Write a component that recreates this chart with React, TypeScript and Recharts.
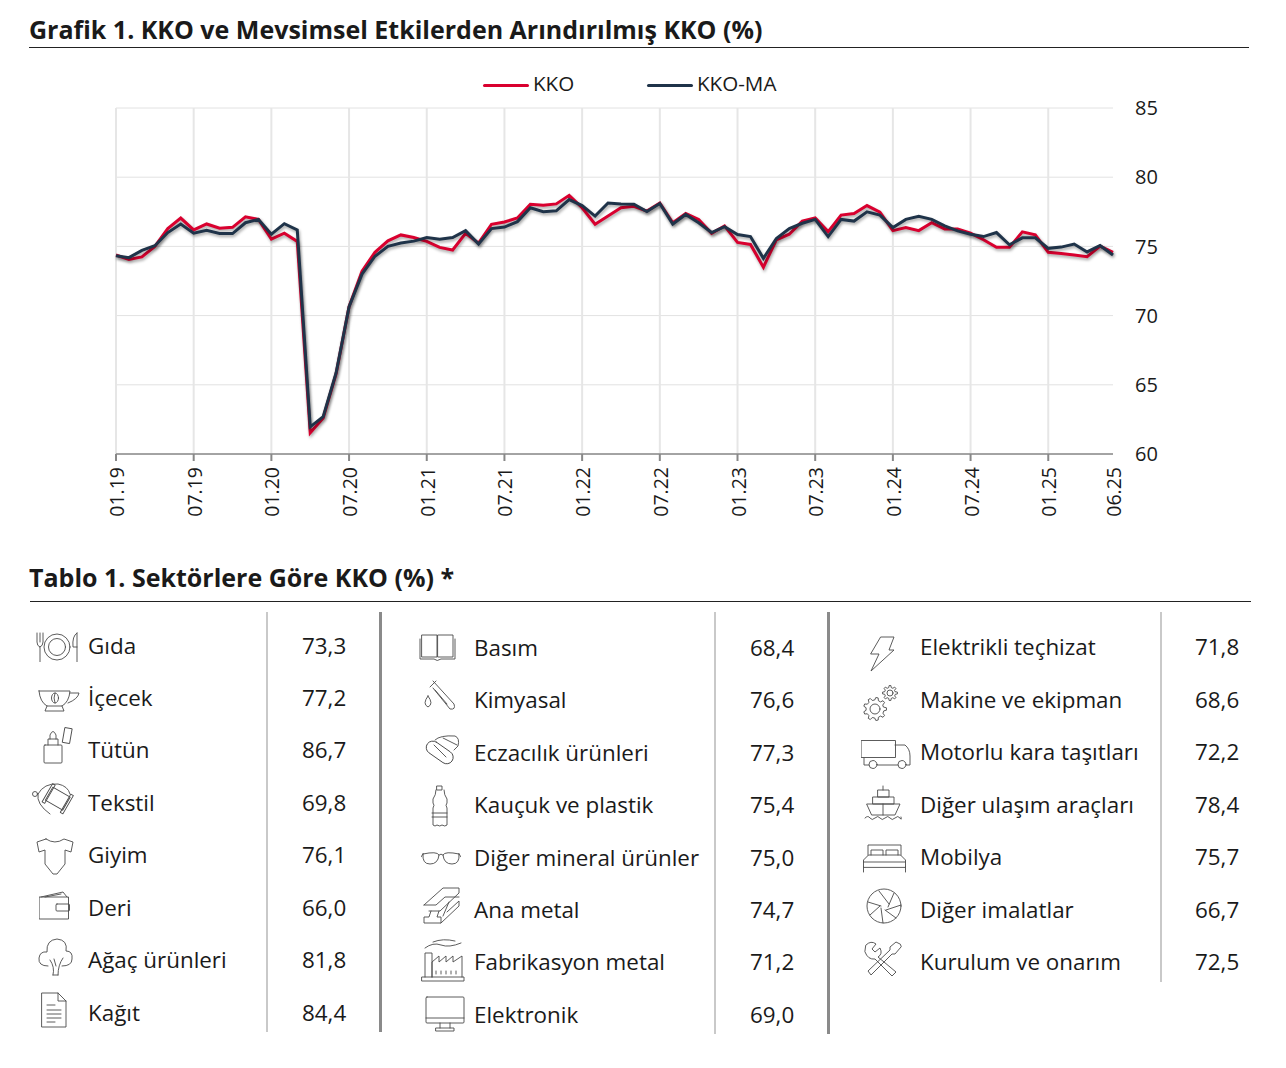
import React from "react";
import { LineChart, Line, XAxis, YAxis, CartesianGrid, ReferenceLine, Legend } from "recharts";

const months = [
  "01.19","02.19","03.19","04.19","05.19","06.19","07.19","08.19","09.19","10.19","11.19","12.19",
  "01.20","02.20","03.20","04.20","05.20","06.20","07.20","08.20","09.20","10.20","11.20","12.20",
  "01.21","02.21","03.21","04.21","05.21","06.21","07.21","08.21","09.21","10.21","11.21","12.21",
  "01.22","02.22","03.22","04.22","05.22","06.22","07.22","08.22","09.22","10.22","11.22","12.22",
  "01.23","02.23","03.23","04.23","05.23","06.23","07.23","08.23","09.23","10.23","11.23","12.23",
  "01.24","02.24","03.24","04.24","05.24","06.24","07.24","08.24","09.24","10.24","11.24","12.24",
  "01.25","02.25","03.25","04.25","05.25","06.25",
];
const kko = [
  74.38,74.05,74.24,75.0,76.29,77.05,76.19,76.62,76.31,76.38,77.14,76.95,
  75.52,75.95,75.36,61.53,62.6,65.8,70.64,73.2,74.57,75.4,75.83,75.64,
  75.36,74.93,74.74,75.95,75.24,76.6,76.76,77.05,78.05,77.98,78.07,78.69,
  77.79,76.6,77.19,77.79,77.9,77.55,78.14,76.71,77.38,76.95,75.95,76.48,
  75.29,75.14,73.5,75.48,75.88,76.83,77.05,76.07,77.26,77.38,77.95,77.48,
  76.14,76.36,76.14,76.71,76.26,76.26,75.95,75.48,74.93,74.93,76.05,75.83,
  74.57,74.48,74.38,74.26,75.02,74.57,
];
const kkoMa = [
  74.33,74.19,74.71,75.05,76.0,76.62,75.95,76.17,75.93,75.93,76.71,76.95,
  75.88,76.64,76.19,61.96,62.7,65.87,70.64,73.0,74.29,75.0,75.24,75.38,
  75.64,75.52,75.64,76.14,75.17,76.29,76.4,76.79,77.79,77.5,77.57,78.38,
  77.95,77.19,78.14,78.07,78.05,77.52,78.1,76.62,77.31,76.71,76.0,76.43,
  75.86,75.71,74.14,75.57,76.29,76.67,76.95,75.71,76.95,76.83,77.5,77.26,
  76.36,76.95,77.17,76.95,76.48,76.12,75.88,75.71,76.0,75.12,75.62,75.62,
  74.86,74.95,75.17,74.6,75.07,74.38,
];
const xTicks = ["01.19","07.19","01.20","07.20","01.21","07.21","01.22","07.22","01.23","07.23","01.24","07.24","01.25","06.25"];
const gridMonths = ["01.19","07.19","01.20","07.20","01.21","07.21","01.22","07.22","01.23","07.23","01.24","07.24","01.25"];
const yTicks = [60, 65, 70, 75, 80, 85];

const col1Names = ["Gıda","İçecek","Tütün","Tekstil","Giyim","Deri","Ağaç ürünleri","Kağıt"];
const col1Values = ["73,3","77,2","86,7","69,8","76,1","66,0","81,8","84,4"];
const col2Names = ["Basım","Kimyasal","Eczacılık ürünleri","Kauçuk ve plastik","Diğer mineral ürünler","Ana metal","Fabrikasyon metal","Elektronik"];
const col2Values = ["68,4","76,6","77,3","75,4","75,0","74,7","71,2","69,0"];
const col3Names = ["Elektrikli teçhizat","Makine ve ekipman","Motorlu kara taşıtları","Diğer ulaşım araçları","Mobilya","Diğer imalatlar","Kurulum ve onarım"];
const col3Values = ["71,8","68,6","72,2","78,4","75,7","66,7","72,5"];

const chartData = months.map((m, i) => ({ month: m, KKO: kko[i], "KKO-MA": kkoMa[i] }));

const FONT = "'Open Sans', 'Noto Sans', sans-serif";
const INK = "#1a1a1a";

type IconDef = { x: number; y: number; w: number; h: number; d: React.ReactNode };

function gearPath(cx: number, cy: number, r1: number, r2: number, n: number) {
  const pts: string[] = [];
  for (let i = 0; i < n; i++) {
    const a = (i / n) * Math.PI * 2;
    const s = (Math.PI * 2) / n;
    const at = (r: number, t: number) => `${(cx + r * Math.cos(t)).toFixed(2)} ${(cy + r * Math.sin(t)).toFixed(2)}`;
    pts.push(at(r1, a - s * 0.3), at(r2, a - s * 0.15), at(r2, a + s * 0.15), at(r1, a + s * 0.3));
  }
  return "M" + pts.join("L") + "z";
}

const col1Icons: IconDef[] = [
  { x: 36, y: 632, w: 42, h: 30, d: <><path d="M1 1v9q0 4 3 5v15M4 1v9M7 1v9q0 4-3 5" /><circle cx="21" cy="15" r="13" /><circle cx="21" cy="15" r="8.5" /><path d="M41 1v29M41 1q-5 3-4 14h4" /></> },
  { x: 38, y: 689, w: 42, h: 23, d: <><path d="M1 2h31q-1 11-8 15H9Q2 13 1 2z" /><path d="M32 4h9q-1 6-11 10" /><path d="M9 17l-2 5h19l-2-5" /><ellipse cx="17" cy="9" rx="3.5" ry="5" /><path d="M17 4q-2 5 0 10" /></> },
  { x: 43, y: 727, w: 30, h: 37, d: <><rect x="1" y="18" width="18" height="18" rx="1" /><path d="M5 18v-6h10v6M7 12V8q3-7 6 0v4" /><rect x="21" y="1" width="7" height="15" transform="rotate(10 24 8)" /></> },
  { x: 32, y: 782, w: 43, h: 35, d: <><g transform="rotate(30 25 18)"><rect x="15" y="9" width="20" height="15" /><rect x="13" y="6" width="3" height="21" /><rect x="34" y="6" width="3" height="21" /></g><path d="M6 12Q12 1 26 2q10 2 12 10M6 12q-2 10 12 20" /><circle cx="3" cy="12" r="2.5" /></> },
  { x: 36, y: 838, w: 38, h: 37, d: <path d="M10 1L1 4l2 10 6-2v14l8 10h4l8-10V12l6 2 2-10-9-3q-9 6-18 0z" /> },
  { x: 39, y: 891, w: 31, h: 29, d: <><rect x="0.5" y="6" width="29" height="22" /><rect x="17" y="13" width="13.5" height="7" rx="1" /><path d="M2 6l22-5 4 5M6 6l16-3" /></> },
  { x: 38, y: 938, w: 35, h: 38, d: <><path d="M10 28q-10 0-9-8 1-7 8-6Q8 2 19 1q11 1 9 12 7 0 6 8 0 7-10 7" /><path d="M15 37q2-8-3-15M20 37q0-10 5-17M15 37h5M18 28l-2-7" /></> },
  { x: 41, y: 992, w: 26, h: 36, d: <path d="M1 1h16l8 8v26H1zM17 1v8h8M6 13h8M6 18h14M6 22h14M6 26h14M6 30h8" /> },
];
const col2Icons: IconDef[] = [
  { x: 419, y: 633, w: 37, h: 28, d: <path d="M3 2h15v22H3zM19 2h15v22H19zM1 6v20h14q3 3 7 0h14V6" /> },
  { x: 422, y: 680, w: 34, h: 30, d: <path d="M11 1l21 23q2 6-4 5L11 8M8 7l6-6M6 16q-6 8 0 11 6-3 0-11zM13 10l12 14" /> },
  { x: 423, y: 735, w: 37, h: 30, d: <><rect x="2" y="11" width="30" height="13" rx="6.5" transform="rotate(35 17 17)" /><path d="M11 10l12 12M12 5q5-5 20-4 5 2 3 10l-4 4M20 3l14 7" /></> },
  { x: 431, y: 785, w: 17, h: 43, d: <path d="M6 1h5v4H6zM5 5q0 5-3 9v4q2 2 0 5v17q2 2 4 0 3 2 5 0 3 2 5 0V23q-2-3 0-5v-4q-3-4-3-9M1 32h15M1 28h15" /> },
  { x: 421, y: 850, w: 40, h: 16, d: <path d="M2 4q14-3 16 1-1 9-9 9T2 4zM38 4q-14-3-16 1 1 9 9 9t7-10zM18 5q2-2 4 0M2 4L0 7M38 4l2 3" /> },
  { x: 423, y: 887, w: 37, h: 37, d: <path d="M1 18L20 1h16v5L17 24H6M1 18h12l9-8h14M16 24l-2 6h4v6H1v-6h5l2-6M18 36l18-17v-5L24 25M26 15l-6 14" /> },
  { x: 421, y: 938, w: 44, h: 44, d: <path d="M1 43h42v-4H1zM4 39V15h7v24M11 39V24l7-6v6l7-6v6l7-6v6l9-6v21M15 33v3M20 33v3M25 33v3M30 33v3M35 33v3M4 10q8-6 16-3 8 3 20-2M12 4q10-4 22-1" /> },
  { x: 425, y: 996, w: 40, h: 36, d: <path d="M2 1h36q1 0 1 1v24q0 1-1 1H2q-1 0-1-1V2q0-1 1-1zM1 22h38M15 27v5M25 27v5M11 32h18v3H11z" /> },
];
const col3Icons: IconDef[] = [
  { x: 870, y: 636, w: 25, h: 36, d: <path d="M11 1h13l-5 13h5L1 35l8-17H1z" /> },
  { x: 863, y: 685, w: 35, h: 36, d: <><path d={gearPath(12, 24, 9, 11.5, 9)} /><circle cx="12" cy="24" r="5" /><path d={gearPath(27, 8, 5.5, 7.5, 8)} /><circle cx="27" cy="8" r="3" /></> },
  { x: 861, y: 740, w: 50, h: 29, d: <><rect x="0.5" y="0.5" width="34" height="17" /><path d="M34 5h10q5 4 5 11v9h-4M3 18v7h5M16 25h21" /><circle cx="12" cy="24.5" r="4" /><circle cx="41" cy="24.5" r="4" /></> },
  { x: 864, y: 785, w: 39, h: 37, d: <path d="M19 1v4M14 5h11v7H14zM9 12h21v7H9zM3 19h33l-5 11H8zM19 19v11M1 33q3-3 5 0t5 0 5 0 5 0 5 0 5 0 5 0 1-1" /> },
  { x: 863, y: 844, w: 43, h: 29, d: <path d="M5 11V1h33v10M0.5 23v-7l5-5h32l5 5v7zM0.5 23v5M42.5 23v5M8 11V6h12v5M23 11V6h12v5M0.5 18h42" /> },
  { x: 866, y: 888, w: 36, h: 36, d: <><circle cx="18" cy="18" r="17" /><path d="M13 3l10 13M28 5l-6 14M35 17l-15 5M30 30l-11-8M17 35l-2-15M4 27l10-9M2 14l13 4" /></> },
  { x: 864, y: 941, w: 38, h: 36, d: <path d="M2 4q5-5 10-1l-4 5 3 3 5-4q3 6-2 9l18 15-4 4-17-17Q4 19 1 11zM36 3l-4-2-6 5v3L4 30l3 4 21-21 3 0 6-7z" /> },
];

function Icon({ icon }: { icon: IconDef }) {
  return (
    <svg
      style={{ position: "absolute", left: icon.x, top: icon.y }}
      width={icon.w}
      height={icon.h}
      viewBox={`0 0 ${icon.w} ${icon.h}`}
      fill="none"
      stroke="#4a4a4a"
      strokeWidth={0.9}
      strokeLinejoin="round"
      strokeLinecap="round"
    >
      {icon.d}
    </svg>
  );
}

function Label({ x, cy, text, size = 22.4, weight = 400 }: { x: number; cy: number; text: string; size?: number; weight?: number }) {
  return (
    <div
      style={{
        position: "absolute", left: x, top: cy - 20, height: 40, lineHeight: "40px",
        fontFamily: FONT, fontSize: size, fontWeight: weight, color: INK, whiteSpace: "nowrap",
      }}
    >
      {text}
    </div>
  );
}

function Rule({ x, y, w, h, color }: { x: number; y: number; w: number; h: number; color: string }) {
  return <div style={{ position: "absolute", left: x, top: y, width: w, height: h, background: color }} />;
}

function Column({ names, values, icons, labelX, valueX, centers }: { names: string[]; values: string[]; icons: IconDef[]; labelX: number; valueX: number; centers: number[] }) {
  return (
    <>
      {names.map((n, i) => (
        <React.Fragment key={n}>
          <Icon icon={icons[i]} />
          <Label x={labelX} cy={centers[i]} text={n} />
          <Label x={valueX} cy={centers[i]} text={values[i]} />
        </React.Fragment>
      ))}
    </>
  );
}

const XTick = (props: any) => {
  const { x, y, payload } = props;
  const hasMark = gridMonths.includes(payload.value);
  return (
    <g>
      {hasMark && <line x1={x} x2={x} y1={y - 8} y2={y - 1} stroke="#888" strokeWidth={2} />}
      <text
        transform={`rotate(-90 ${x + 1} ${y + 5})`}
        x={x + 1}
        y={y + 5}
        dy={7}
        textAnchor="end"
        fontFamily={FONT}
        fontSize={19.5}
        fill={INK}
      >
        {payload.value}
      </text>
    </g>
  );
};

const legendLeft = [483, 647];
const renderLegend = (props: any) => (
  <div style={{ position: "relative", height: 0 }}>
    {(props.payload || []).map((p: any, i: number) => (
      <div key={p.value} style={{ position: "absolute", left: legendLeft[i], top: 0, display: "flex", alignItems: "center", height: 30 }}>
        <div style={{ width: 46, height: 3, background: p.color, borderRadius: 2, marginTop: 4 }} />
        <span style={{ marginLeft: 4, fontFamily: FONT, fontSize: 20.6, color: INK }}>{p.value}</span>
      </div>
    ))}
  </div>
);

const shadow = { filter: "drop-shadow(1px 2px 1.5px rgba(0,0,0,0.35))" };

export default function App() {
  return (
    <div style={{ position: "absolute", left: 0, top: 0, width: 1286, height: 1068, background: "#fff", overflow: "hidden" }}>
      <Label x={29} cy={29} text="Grafik 1. KKO ve Mevsimsel Etkilerden Arındırılmış KKO (%)" size={25} weight={700} />
      <Rule x={29} y={47} w={1220} h={1} color="#222" />
      <div style={{ position: "absolute", left: 0, top: 0 }}>
        <LineChart width={1286} height={530} data={chartData} margin={{ top: 108, right: 113, bottom: 0, left: 116 }}>
          <CartesianGrid vertical={false} stroke="#e2e2e2" strokeWidth={1} />
          {gridMonths.map((m) => (
            <ReferenceLine key={m} x={m} stroke="#e6e6e6" strokeWidth={2} />
          ))}
          <XAxis
            dataKey="month"
            ticks={xTicks}
            interval={0}
            tick={XTick}
            tickLine={false}
            axisLine={{ stroke: "#8a8a8a", strokeWidth: 1.5 }}
            height={76}
            padding={{ left: 0, right: 0 }}
          />
          <YAxis
            orientation="right"
            domain={[60, 85]}
            ticks={yTicks}
            width={60}
            axisLine={false}
            tickLine={false}
            tick={{ fontFamily: FONT, fontSize: 20, fill: INK, dx: 14 }}
          />
          <Legend content={renderLegend} verticalAlign="top" wrapperStyle={{ left: 0, top: 68, width: 1286, height: 0 }} />
          <Line dataKey="KKO" stroke="#d9002f" strokeWidth={3} dot={false} activeDot={false} isAnimationActive={false} style={shadow} />
          <Line dataKey="KKO-MA" stroke="#1f3349" strokeWidth={3} dot={false} activeDot={false} isAnimationActive={false} style={shadow} />
        </LineChart>
      </div>
      <Label x={29} cy={577} text="Tablo 1. Sektörlere Göre KKO (%) *" size={25} weight={700} />
      <Rule x={30} y={601} w={1221} h={1} color="#222" />
      <Rule x={266} y={612} w={2} h={420} color="#c9c9c9" />
      <Rule x={379} y={612} w={3} h={420} color="#8a8a8a" />
      <Rule x={714} y={612} w={2} h={422} color="#c9c9c9" />
      <Rule x={827} y={612} w={3} h={422} color="#8a8a8a" />
      <Rule x={1160} y={612} w={2} h={370} color="#c9c9c9" />
      <Column names={col1Names} values={col1Values} icons={col1Icons} labelX={88} valueX={302} centers={[646, 698, 750, 803, 855, 908, 960, 1013]} />
      <Column names={col2Names} values={col2Values} icons={col2Icons} labelX={474} valueX={750} centers={[648, 700, 753, 805, 858, 910, 962, 1015]} />
      <Column names={col3Names} values={col3Values} icons={col3Icons} labelX={920} valueX={1195} centers={[647, 700, 752, 805, 857, 910, 962]} />
    </div>
  );
}
